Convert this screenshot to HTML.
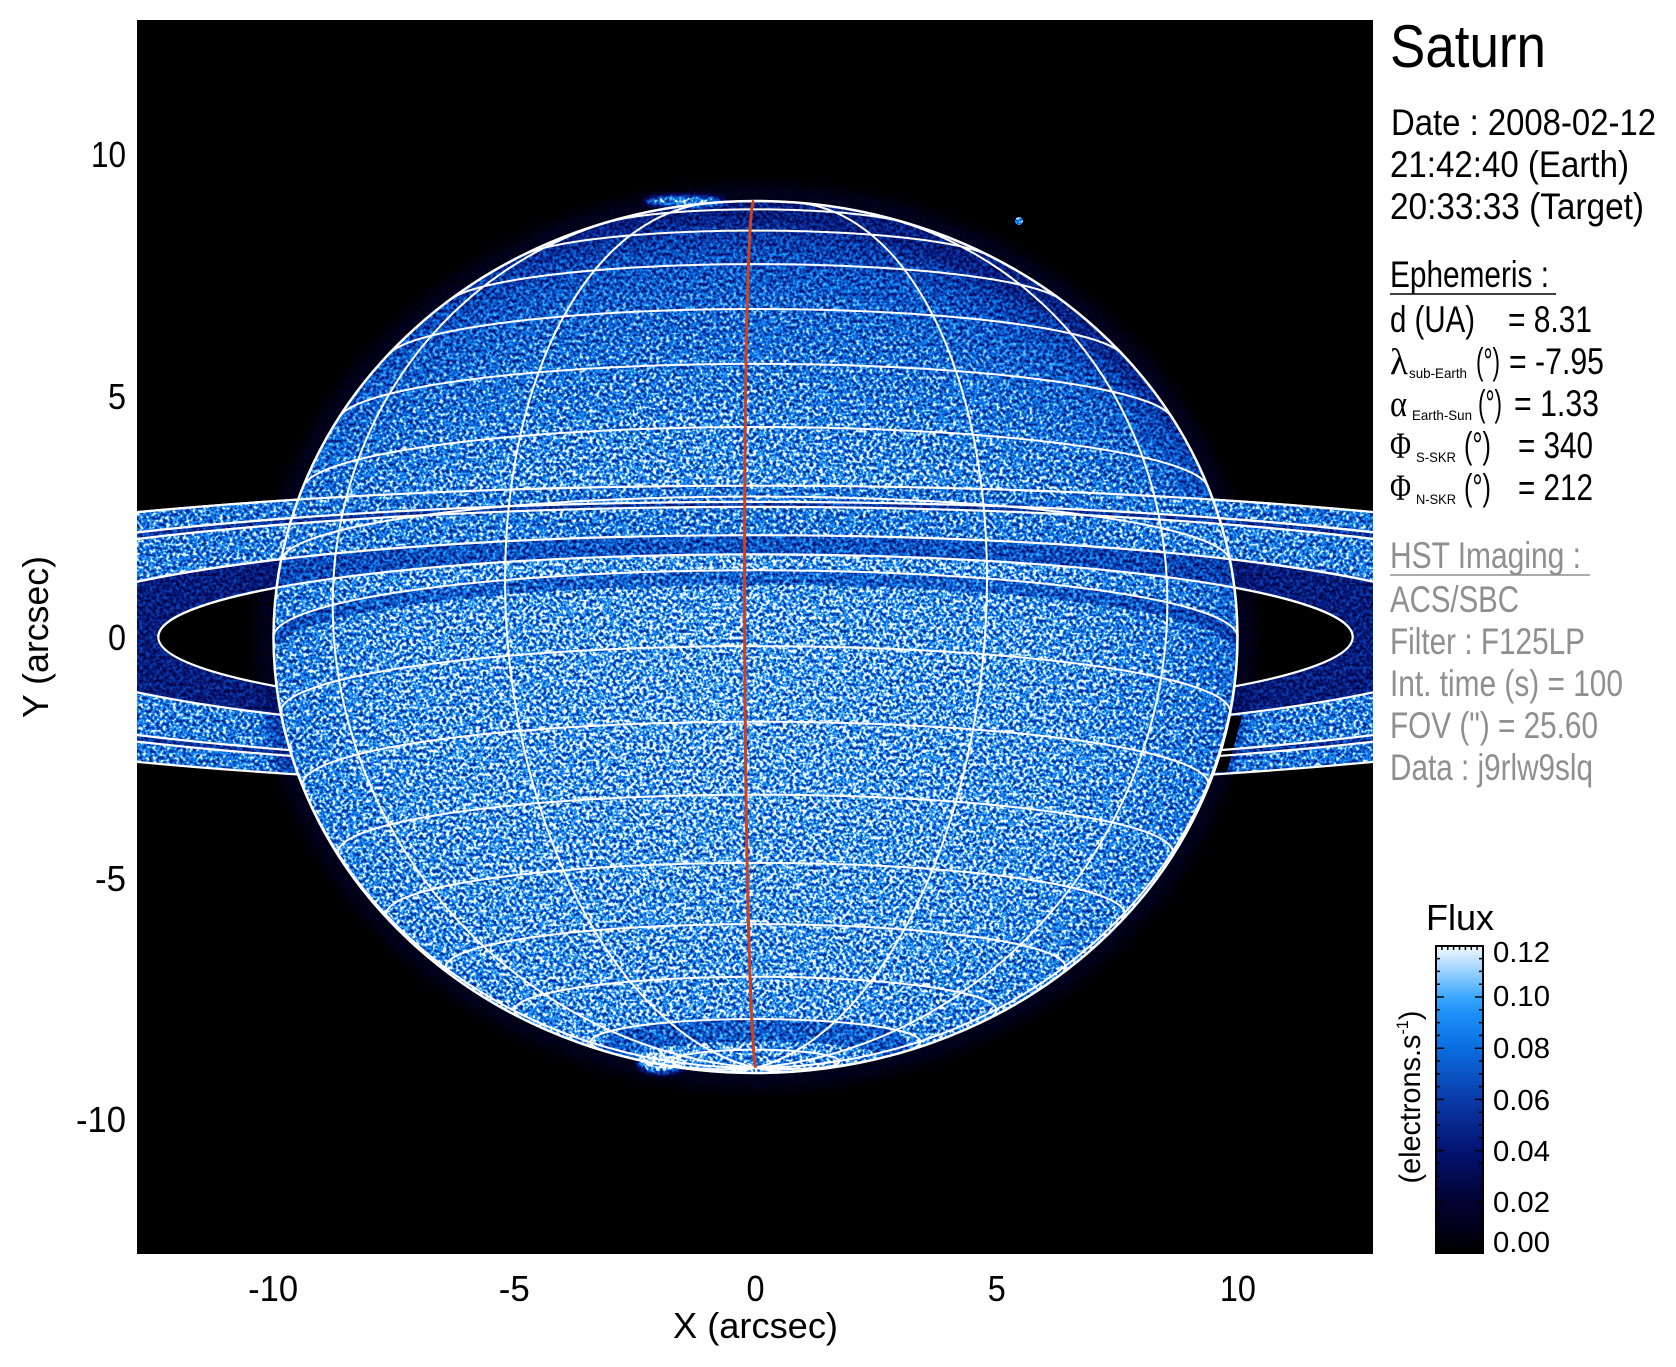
<!DOCTYPE html>
<html>
<head>
<meta charset="utf-8">
<style>
html,body{margin:0;padding:0;background:#fff;overflow:hidden;}
svg{display:block;}
</style>
</head>
<body>
<svg id="fig" width="1676" height="1367" viewBox="0 0 1676 1367" xmlns="http://www.w3.org/2000/svg" font-family="'Liberation Sans', Arial, sans-serif">
<defs>
  <clipPath id="plot"><rect x="137" y="20" width="1236" height="1234"/></clipPath>
  <clipPath id="front"><rect x="0" y="0" width="1676" height="637"/></clipPath>
  <clipPath id="pclip"><ellipse cx="755.5" cy="637" rx="482" ry="436"/></clipPath>
  <mask id="outP" maskUnits="userSpaceOnUse" x="0" y="0" width="1676" height="1367">
    <rect x="0" y="0" width="1676" height="1367" fill="#fff"/>
    <ellipse cx="755.5" cy="637" rx="482" ry="436" fill="#000"/>
  </mask>
  <radialGradient id="pg" cx="0.47" cy="0.6" r="0.58">
    <stop offset="0" stop-color="#d0d0d0"/>
    <stop offset="0.6" stop-color="#c8c8c8"/>
    <stop offset="0.82" stop-color="#b8b8b8"/>
    <stop offset="0.92" stop-color="#a6a6a6"/>
    <stop offset="0.98" stop-color="#8a8a8a"/>
    <stop offset="1" stop-color="#707070"/>
  </radialGradient>
  <linearGradient id="north" x1="0" y1="0" x2="0" y2="1">
    <stop offset="0" stop-color="#000" stop-opacity="0.16"/>
    <stop offset="0.35" stop-color="#000" stop-opacity="0"/>
    <stop offset="1" stop-color="#000" stop-opacity="0"/>
  </linearGradient>
  <linearGradient id="cbar" x1="0" y1="1" x2="0" y2="0">
    <stop offset="0" stop-color="#000000"/>
    <stop offset="0.08" stop-color="#00001a"/>
    <stop offset="0.17" stop-color="#030333"/>
    <stop offset="0.33" stop-color="#041270"/>
    <stop offset="0.5" stop-color="#0a3aa8"/>
    <stop offset="0.67" stop-color="#0a6ee0"/>
    <stop offset="0.78" stop-color="#1c90f8"/>
    <stop offset="0.83" stop-color="#38a6ff"/>
    <stop offset="0.92" stop-color="#9cd2ff"/>
    <stop offset="1" stop-color="#f4faff"/>
  </linearGradient>
  <filter id="spk" filterUnits="userSpaceOnUse" x="137" y="20" width="1236" height="1234" color-interpolation-filters="sRGB">
    <feTurbulence type="fractalNoise" baseFrequency="0.3" numOctaves="2" seed="7" result="t"/>
    <feColorMatrix in="t" type="matrix" values="2.4 0 0 0 -0.7  2.4 0 0 0 -0.7  2.4 0 0 0 -0.7  0 0 0 0 1" result="g"/>
    <feComposite in="SourceGraphic" in2="g" operator="arithmetic" k1="0.9" k2="0.55" k3="0" k4="0" result="m"/>
    <feComponentTransfer in="m">
      <feFuncR type="table" tableValues="0 0.004 0.012 0.016 0.016 0.027 0.039 0.039 0.039 0.09 0.22 0.59 0.957"/>
      <feFuncG type="table" tableValues="0 0.004 0.012 0.039 0.071 0.149 0.227 0.329 0.431 0.529 0.651 0.812 0.98"/>
      <feFuncB type="table" tableValues="0 0.098 0.2 0.322 0.439 0.549 0.659 0.769 0.878 0.949 1 1 1"/>
    </feComponentTransfer>
  </filter>
  <filter id="blur8" x="-20%" y="-20%" width="140%" height="140%"><feGaussianBlur stdDeviation="8"/></filter>
  <filter id="blur3" x="-50%" y="-50%" width="200%" height="200%"><feGaussianBlur stdDeviation="3"/></filter>
</defs>

<rect x="0" y="0" width="1676" height="1367" fill="#fff"/>

<g clip-path="url(#plot)">
  <rect x="137" y="20" width="1236" height="1234" fill="#000"/>

  <!-- intensity layer (greyscale) mapped through colormap -->
  <g filter="url(#spk)">
    <rect x="137" y="20" width="1236" height="1234" fill="#000"/>
    <!-- back rings -->
    <g>
      <path fill-rule="evenodd" fill="#b3b3b3" d="M-338.6,637a1094.1,151.3 0 1,0 2188.2,0a1094.1,151.3 0 1,0 -2188.2,0ZM-221.5,637a977,135.1 0 1,0 1954,0a977,135.1 0 1,0 -1954,0Z"/>
      <path fill-rule="evenodd" fill="#787878" d="M-221.5,637a977,135.1 0 1,0 1954,0a977,135.1 0 1,0 -1954,0ZM-184.9,637a940.4,130.1 0 1,0 1880.8,0a940.4,130.1 0 1,0 -1880.8,0Z"/>
      <path fill-rule="evenodd" fill="#b8b8b8" d="M-184.9,637a940.4,130.1 0 1,0 1880.8,0a940.4,130.1 0 1,0 -1880.8,0ZM19.5,637a736,101.8 0 1,0 1472,0a736,101.8 0 1,0 -1472,0Z"/>
      <path fill-rule="evenodd" fill="#5e5e5e" d="M19.5,637a736,101.8 0 1,0 1472,0a736,101.8 0 1,0 -1472,0ZM158.3,637a597.2,82.6 0 1,0 1194.4,0a597.2,82.6 0 1,0 -1194.4,0Z"/>
    </g>
    <!-- limb glow -->
    <ellipse cx="755.5" cy="637" rx="488" ry="442" fill="none" stroke="#3a3a3a" stroke-width="18" opacity="0.55" filter="url(#blur8)"/>
    <!-- planet shadow on rings -->
    <path d="M1229,716 L1242,716 L1227,772 L1213,772 Z" fill="#000"/>
    <!-- planet -->
    <ellipse cx="755.5" cy="637" rx="482" ry="436" fill="url(#pg)"/>
    <ellipse cx="755.5" cy="637" rx="482" ry="436" fill="url(#north)"/>
    <g clip-path="url(#pclip)">
      <path id="eqsh" d="" fill="none" stroke="#000" stroke-width="14" opacity="0.22"/>
      <path id="polsh" d="" fill="none" stroke="#000" stroke-width="24" opacity="0.22"/>
    </g>
    <!-- front rings -->
    <g clip-path="url(#front)">
      <path fill-rule="evenodd" fill="#b3b3b3" d="M-338.6,637a1094.1,151.3 0 1,0 2188.2,0a1094.1,151.3 0 1,0 -2188.2,0ZM-221.5,637a977,135.1 0 1,0 1954,0a977,135.1 0 1,0 -1954,0Z"/>
      <path fill-rule="evenodd" fill="#787878" d="M-221.5,637a977,135.1 0 1,0 1954,0a977,135.1 0 1,0 -1954,0ZM-184.9,637a940.4,130.1 0 1,0 1880.8,0a940.4,130.1 0 1,0 -1880.8,0Z"/>
      <path fill-rule="evenodd" fill="#b8b8b8" d="M-184.9,637a940.4,130.1 0 1,0 1880.8,0a940.4,130.1 0 1,0 -1880.8,0ZM19.5,637a736,101.8 0 1,0 1472,0a736,101.8 0 1,0 -1472,0Z"/>
      <path fill-rule="evenodd" fill="#5e5e5e" opacity="0.5" d="M19.5,637a736,101.8 0 1,0 1472,0a736,101.8 0 1,0 -1472,0ZM158.3,637a597.2,82.6 0 1,0 1194.4,0a597.2,82.6 0 1,0 -1194.4,0Z"/>
    </g>
    <!-- aurora spots & moon -->
    <ellipse cx="662" cy="1062" rx="24" ry="11" fill="#ffffff" opacity="0.95" filter="url(#blur3)"/>
    <ellipse cx="684" cy="201" rx="40" ry="5" fill="#ffffff" opacity="0.85" filter="url(#blur3)"/>
    <circle cx="1019" cy="221" r="4" fill="#d0d0d0"/>
  </g>

  <!-- ring edge lines: outside planet -->
  <g fill="none" stroke="#fff" stroke-width="2.2" mask="url(#outP)">
    <ellipse cx="755.5" cy="637" rx="1094.1" ry="151.3"/>
    <ellipse cx="755.5" cy="637" rx="977" ry="135.1"/>
    <ellipse cx="755.5" cy="637" rx="940.4" ry="130.1"/>
    <ellipse cx="755.5" cy="637" rx="736" ry="101.8"/>
    <ellipse cx="755.5" cy="637" rx="597.2" ry="82.6"/>
  </g>
  <!-- ring edge lines: front half -->
  <g fill="none" stroke="#fff" stroke-width="2.2" clip-path="url(#front)">
    <ellipse cx="755.5" cy="637" rx="1094.1" ry="151.3"/>
    <ellipse cx="755.5" cy="637" rx="977" ry="135.1"/>
    <ellipse cx="755.5" cy="637" rx="940.4" ry="130.1"/>
    <ellipse cx="755.5" cy="637" rx="736" ry="101.8"/>
    <ellipse cx="755.5" cy="637" rx="597.2" ry="82.6"/>
  </g>

  <!-- planet grid -->
  <path id="grid" d="" fill="none" stroke="#fff" stroke-width="2" stroke-linejoin="round"/>
  <ellipse cx="755.5" cy="637" rx="482" ry="436" fill="none" stroke="#fff" stroke-width="2.5"/>
  <path id="red" d="" fill="none" stroke="#d2401a" stroke-width="3"/>
</g>

<!-- axis tick labels -->
<g font-size="36" fill="#000">
  <text x="273.1" y="1301" text-anchor="middle" textLength="50" lengthAdjust="spacingAndGlyphs">-10</text>
  <text x="514.3" y="1301" text-anchor="middle" textLength="31" lengthAdjust="spacingAndGlyphs">-5</text>
  <text x="755.5" y="1301" text-anchor="middle" textLength="18" lengthAdjust="spacingAndGlyphs">0</text>
  <text x="996.7" y="1301" text-anchor="middle" textLength="18" lengthAdjust="spacingAndGlyphs">5</text>
  <text x="1237.9" y="1301" text-anchor="middle" textLength="36" lengthAdjust="spacingAndGlyphs">10</text>
  <text x="755.5" y="1338" text-anchor="middle" textLength="165" lengthAdjust="spacingAndGlyphs">X (arcsec)</text>

  <text x="126" y="167" text-anchor="end" textLength="35" lengthAdjust="spacingAndGlyphs">10</text>
  <text x="126" y="409" text-anchor="end" textLength="18" lengthAdjust="spacingAndGlyphs">5</text>
  <text x="126" y="650" text-anchor="end" textLength="18" lengthAdjust="spacingAndGlyphs">0</text>
  <text x="126" y="891" text-anchor="end" textLength="31" lengthAdjust="spacingAndGlyphs">-5</text>
  <text x="126" y="1132" text-anchor="end" textLength="50" lengthAdjust="spacingAndGlyphs">-10</text>
  <text transform="translate(48,637) rotate(-90)" text-anchor="middle" textLength="162" lengthAdjust="spacingAndGlyphs">Y (arcsec)</text>
</g>

<!-- right panel text -->
<g fill="#000">
  <text x="1390" y="67" font-size="60" textLength="156" lengthAdjust="spacingAndGlyphs">Saturn</text>
  <text x="1391" y="135" font-size="37" textLength="265" lengthAdjust="spacingAndGlyphs">Date : 2008-02-12</text>
  <text x="1390" y="177" font-size="37" textLength="239" lengthAdjust="spacingAndGlyphs">21:42:40 (Earth)</text>
  <text x="1390" y="219" font-size="37" textLength="254" lengthAdjust="spacingAndGlyphs">20:33:33 (Target)</text>
  <text x="1390" y="287" font-size="37" textLength="159" lengthAdjust="spacingAndGlyphs">Ephemeris :</text>
  <line x1="1390" y1="294" x2="1556" y2="294" stroke="#000" stroke-width="1.5"/>

  <text x="1390" y="332" font-size="37" textLength="85" lengthAdjust="spacingAndGlyphs">d (UA)</text>
  <text x="1508" y="332" font-size="37" textLength="84" lengthAdjust="spacingAndGlyphs">= 8.31</text>

  <text x="1390" y="374" font-size="37" font-family="'Liberation Serif', serif" textLength="18" lengthAdjust="spacingAndGlyphs">λ</text>
  <text x="1409" y="378" font-size="14" textLength="58" lengthAdjust="spacingAndGlyphs">sub-Earth</text>
  <text x="1476" y="374" font-size="37" textLength="24" lengthAdjust="spacingAndGlyphs">(°)</text>
  <text x="1509" y="374" font-size="37" textLength="95" lengthAdjust="spacingAndGlyphs">= -7.95</text>

  <text x="1390" y="416" font-size="37" font-family="'Liberation Serif', serif" textLength="17" lengthAdjust="spacingAndGlyphs">α</text>
  <text x="1412" y="420" font-size="14" textLength="60" lengthAdjust="spacingAndGlyphs">Earth-Sun</text>
  <text x="1478" y="416" font-size="37" textLength="24" lengthAdjust="spacingAndGlyphs">(°)</text>
  <text x="1514" y="416" font-size="37" textLength="85" lengthAdjust="spacingAndGlyphs">= 1.33</text>

  <text x="1390" y="458" font-size="37" font-family="'Liberation Serif', serif" textLength="21" lengthAdjust="spacingAndGlyphs">Φ</text>
  <text x="1416" y="462" font-size="14" textLength="40" lengthAdjust="spacingAndGlyphs">S-SKR</text>
  <text x="1464" y="458" font-size="37" textLength="27" lengthAdjust="spacingAndGlyphs">(°)</text>
  <text x="1518" y="458" font-size="37" textLength="75" lengthAdjust="spacingAndGlyphs">= 340</text>

  <text x="1390" y="500" font-size="37" font-family="'Liberation Serif', serif" textLength="21" lengthAdjust="spacingAndGlyphs">Φ</text>
  <text x="1416" y="504" font-size="14" textLength="40" lengthAdjust="spacingAndGlyphs">N-SKR</text>
  <text x="1464" y="500" font-size="37" textLength="27" lengthAdjust="spacingAndGlyphs">(°)</text>
  <text x="1518" y="500" font-size="37" textLength="75" lengthAdjust="spacingAndGlyphs">= 212</text>
</g>
<g fill="#8f8f8f" font-size="37">
  <text x="1390" y="568" textLength="191" lengthAdjust="spacingAndGlyphs">HST Imaging :</text>
  <line x1="1390" y1="575" x2="1590" y2="575" stroke="#8f8f8f" stroke-width="1.5"/>
  <text x="1390" y="612" textLength="129" lengthAdjust="spacingAndGlyphs">ACS/SBC</text>
  <text x="1390" y="654" textLength="195" lengthAdjust="spacingAndGlyphs">Filter : F125LP</text>
  <text x="1390" y="696" textLength="233" lengthAdjust="spacingAndGlyphs">Int. time (s) = 100</text>
  <text x="1390" y="738" textLength="208" lengthAdjust="spacingAndGlyphs">FOV (") = 25.60</text>
  <text x="1390" y="780" textLength="203" lengthAdjust="spacingAndGlyphs">Data : j9rlw9slq</text>
</g>

<!-- colorbar -->
<text x="1460" y="930" font-size="36" text-anchor="middle" textLength="68" lengthAdjust="spacingAndGlyphs">Flux</text>
<rect x="1436" y="946" width="47" height="307" fill="url(#cbar)" stroke="#000" stroke-width="2"/>
<path id="cbt" d="" stroke="#000" stroke-width="1.5" fill="none"/>
<g font-size="29" fill="#000">
  <text x="1493" y="962" textLength="57" lengthAdjust="spacingAndGlyphs">0.12</text>
  <text x="1493" y="1006" textLength="57" lengthAdjust="spacingAndGlyphs">0.10</text>
  <text x="1493" y="1058" textLength="57" lengthAdjust="spacingAndGlyphs">0.08</text>
  <text x="1493" y="1110" textLength="57" lengthAdjust="spacingAndGlyphs">0.06</text>
  <text x="1493" y="1161" textLength="57" lengthAdjust="spacingAndGlyphs">0.04</text>
  <text x="1493" y="1212" textLength="57" lengthAdjust="spacingAndGlyphs">0.02</text>
  <text x="1493" y="1252" textLength="57" lengthAdjust="spacingAndGlyphs">0.00</text>
  <text transform="translate(1420,1097) rotate(-90)" text-anchor="middle" font-size="30" textLength="173" lengthAdjust="spacingAndGlyphs">(electrons.s<tspan font-size="17" dy="-12">-1</tspan><tspan dy="12">)</tspan></text>
</g>
</svg>
<script>
(function(){
  var cx=755.5, cy=637, a=482, b=435.0, B=-7.95*Math.PI/180, sB=Math.sin(B), cB=Math.cos(B);
  function P(phi,lam){
    var p=phi*Math.PI/180, l=lam*Math.PI/180;
    var X=a*Math.cos(p)*Math.sin(l), D=a*Math.cos(p)*Math.cos(l), Z=b*Math.sin(p);
    var U=Z*cB-D*sB;
    var v=D*cB/(a*a)+Z*sB/(b*b);
    return [cx+X, cy-U, v>=-1e-9];
  }
  function segs(pts){
    var out=[], s=[];
    for(var i=0;i<pts.length;i++){
      var p=pts[i];
      if(p[2]) s.push(p); else { if(s.length>1) out.push(s); s=[]; }
    }
    if(s.length>1) out.push(s);
    return out.map(function(s){
      return 'M'+s.map(function(p){return p[0].toFixed(1)+','+p[1].toFixed(1);}).join('L');
    }).join('');
  }
  var d='', pts, phi, l, k, p;
  for(phi=-80; phi<=80; phi+=10){
    pts=[]; for(l=-180; l<=180; l+=1) pts.push(P(phi,l)); d+=segs(pts);
  }
  for(k=-6; k<6; k++){
    var lam=-1.3+30*k;
    pts=[]; for(p=-90; p<=90; p+=0.5) pts.push(P(p,lam)); d+=segs(pts);
  }
  document.getElementById('grid').setAttribute('d', d);
  pts=[]; for(p=-90; p<=90; p+=0.5) pts.push(P(p,-1.3));
  document.getElementById('red').setAttribute('d', segs(pts));
  pts=[]; for(l=-180; l<=180; l+=1) pts.push(P(-1,l));
  document.getElementById('eqsh').setAttribute('d', segs(pts));
  pts=[]; for(l=-180; l<=180; l+=1) pts.push(P(-73,l));
  document.getElementById('polsh').setAttribute('d', segs(pts));
  var t='';
  for(k=1; k<24; k++){
    var y=(1253-12.8*k).toFixed(1);
    var len=(k%4===0)?8:4;
    t+='M1436,'+y+'h'+len+'M1483,'+y+'h'+(-len);
  }
  for(k=1; k<8; k++){
    var x=(1436+47*k/8).toFixed(1);
    t+='M'+x+',946v4';
  }
  document.getElementById('cbt').setAttribute('d', t);
})();
</script>
</body>
</html>
